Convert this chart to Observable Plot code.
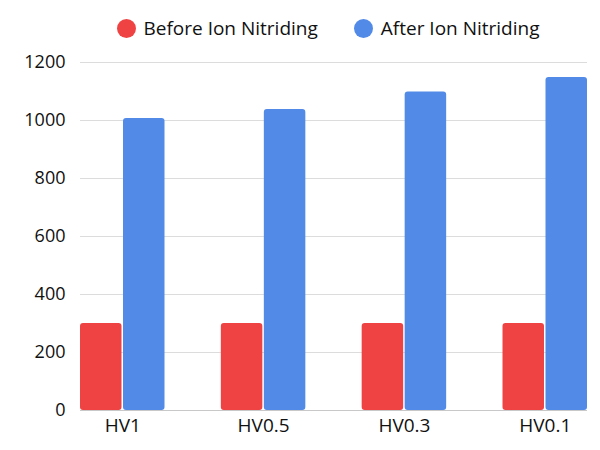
<!DOCTYPE html>
<html>
<head>
<meta charset="utf-8">
<script src="https://cdn.jsdelivr.net/npm/d3@7"></script>
<script src="https://cdn.jsdelivr.net/npm/@observablehq/plot@0.6"></script>
<style>
  html, body { margin: 0; padding: 0; background: #fff; }
  body { width: 600px; height: 450px; overflow: hidden; font-family: "Open Sans", sans-serif; color: #111; }
  #legend { height: 50px; box-sizing: border-box; padding: 6px 24px 0 80px; display: flex; justify-content: center; align-items: center; gap: 36px; font-size: 19px; }
  .item { display: flex; align-items: center; gap: 8px; }
  .sw { width: 19px; height: 19px; border-radius: 50%; display: inline-block; }
</style>
</head>
<body>
<div id="legend"></div>
<div id="chart"></div>
<script>
const categories = ["HV1", "HV0.5", "HV0.3", "HV0.1"];
const seriesNames = ["Before Ion Nitriding", "After Ion Nitriding"];
const beforeValues = [300, 300, 300, 300];
const afterValues = [1007, 1038, 1098, 1148];
const yTicks = [0, 200, 400, 600, 800, 1000, 1200];
const colors = ["#ef4343", "#528ae8"];

const before = categories.map((c, i) => ({category: c, value: beforeValues[i]}));
const after = categories.map((c, i) => ({category: c, value: afterValues[i]}));

const legend = document.getElementById("legend");
seriesNames.forEach((name, i) => {
  const it = document.createElement("div");
  it.className = "item";
  const sw = document.createElement("span");
  sw.className = "sw";
  sw.style.background = colors[i];
  const tx = document.createElement("span");
  tx.textContent = name;
  it.appendChild(sw); it.appendChild(tx);
  legend.appendChild(it);
});

const chart = Plot.plot({
  width: 600,
  height: 400,
  marginTop: 12,
  marginBottom: 40,
  marginLeft: 80,
  marginRight: 13,
  style: {fontFamily: "'Open Sans', sans-serif", fontSize: "18px", color: "#111", background: "#fff"},
  x: {domain: categories, paddingInner: 0.4, paddingOuter: 0, round: false, label: null},
  y: {domain: [0, 1200], label: null},
  marks: [
    Plot.gridY(yTicks, {stroke: "#dcdcdc", strokeOpacity: 1}),
    Plot.ruleY([0], {stroke: "#c8c8c8"}),
    Plot.barY(before, {x: "category", y: "value", fill: colors[0], insetRight: 43, rx: 3}),
    Plot.barY(after, {x: "category", y: "value", fill: colors[1], insetLeft: 43, rx: 3}),
    Plot.axisY(yTicks, {tickSize: 0, tickPadding: 15, fontSize: 18, label: null, tickFormat: d3.format("d")}),
    Plot.axisX({tickSize: 0, tickPadding: 8, fontSize: 19, label: null})
  ]
});
document.getElementById("chart").appendChild(chart);
</script>
</body>
</html>
